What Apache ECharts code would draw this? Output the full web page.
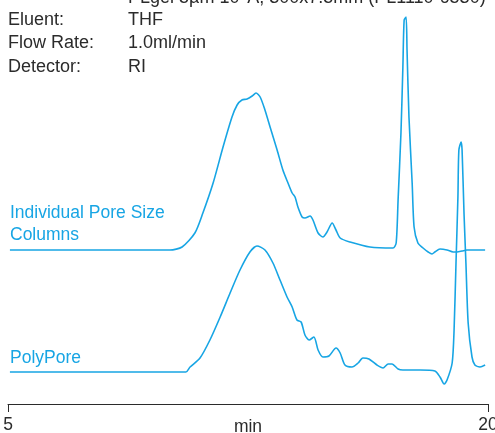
<!DOCTYPE html>
<html>
<head>
<meta charset="utf-8">
<script src="https://cdn.jsdelivr.net/npm/echarts@6/dist/echarts.min.js"></script>
<style>html,body{margin:0;padding:0;background:#fff;}#c{width:495px;height:433px;}</style>
</head>
<body>
<div id="c"></div>
<script>
// Retention time (min) and detector response (arbitrary units, curves offset vertically)
const individualTime = [5.06,10.06,10.44,10.84,11.09,11.41,11.72,12.00,12.16,12.31,12.47,12.63,12.75,12.88,13.03,13.19,13.41,13.59,13.75,13.88,13.97,14.06,14.19,14.28,14.44,14.53,14.69,14.84,14.97,15.13,15.25,15.38,15.69,16.31,17.03,17.13,17.19,17.28,17.34,17.38,17.44,17.47,17.53,17.63,17.69,17.81,17.97,18.13,18.25,18.34,18.50,18.72,18.91,19.03,19.19,19.34,19.91];
const individualSignal = [154,154,157,171,191,221,257,287,299,304,305,308,311,307,294,277,254,234,221,211,207,197,187,186,188,184,171,167,172,181,174,166,162,157,156,161,204,271,337,384,387,354,287,221,177,161,156,152,150,152,155,154,152,152,153,154,154];
const polyporeTime = [5.06,10.56,10.69,11.00,11.31,11.63,11.94,12.25,12.56,12.78,13.03,13.28,13.50,13.72,13.88,14.03,14.16,14.28,14.41,14.56,14.69,14.84,15.03,15.25,15.38,15.53,15.75,15.94,16.09,16.28,16.53,16.72,16.88,17.00,17.19,17.34,17.88,18.34,18.50,18.63,18.72,18.88,18.94,19.00,19.06,19.09,19.16,19.19,19.25,19.31,19.38,19.50,19.59,19.75,19.91];
const polyporeSignal = [32,32,37,46,64,87,111,134,152,158,154,141,124,107,97,84,82,69,64,67,54,47,48,56,51,39,37,41,46,45,39,36,40,40,35,34,34,33,27,20,24,41,74,141,207,254,262,254,191,141,81,47,39,37,39];
const xTicks = [5, 20];
const seriesNames = ['Individual Pore Size\nColumns', 'PolyPore'];
const infoLabels = ['Eluent:', 'Flow Rate:', 'Detector:'];
const infoValues = ['THF', '1.0ml/min', 'RI'];
const headerText = 'PLgel 5µm 10⁴Å, 300x7.5mm (PL1110-6530)';

const BLUE = '#17a5e4';
const DARK = '#2b2b2b';
const FONT = '"Liberation Sans", Arial, sans-serif';

const chart = echarts.init(document.getElementById('c'), null, {renderer: 'canvas'});
const zip = (a, b) => a.map((v, i) => [v, b[i]]);

const graphics = [
  {type: 'text', left: 128, top: -11, style: {text: headerText, fill: DARK, font: '18px ' + FONT}}
];
const rowsY = [11, 34, 58];
infoLabels.forEach((t, i) => {
  graphics.push({type: 'text', left: 8, top: rowsY[i], style: {text: t, fill: DARK, font: '18px ' + FONT}});
  graphics.push({type: 'text', left: 128, top: rowsY[i], style: {text: infoValues[i], fill: DARK, font: '18px ' + FONT}});
});
graphics.push({type: 'text', left: 10, top: 202, style: {text: seriesNames[0], fill: BLUE, font: '17.5px ' + FONT, lineHeight: 22}});
graphics.push({type: 'text', left: 10, top: 349, style: {text: seriesNames[1], fill: BLUE, font: '17.5px ' + FONT}});

chart.setOption({
  animation: false,
  backgroundColor: '#fff',
  grid: {left: 8, right: 7, top: 0, bottom: 28, containLabel: false, outerBoundsMode: 'none'},
  xAxis: {
    type: 'value', min: 5, max: 20,
    name: 'min', nameLocation: 'middle', nameGap: 13, nameMoveOverlap: false,
    nameTextStyle: {color: DARK, fontSize: 17.5, fontFamily: FONT},
    axisLine: {show: true, lineStyle: {color: DARK, width: 1}},
    axisTick: {show: true, length: 8, inside: false, customValues: xTicks, lineStyle: {color: DARK, width: 1}},
    axisLabel: {show: true, customValues: xTicks, color: DARK, fontSize: 17.5, fontFamily: FONT, margin: 11, showMaxLabel: true, showMinLabel: true},
    splitLine: {show: false}
  },
  yAxis: {
    type: 'value', min: -1, max: 404, show: false, splitLine: {show: false}
  },
  series: [
    {type: 'line', name: 'Individual Pore Size Columns', data: zip(individualTime, individualSignal), showSymbol: false, smooth: 0.25, lineStyle: {color: BLUE, width: 1.6}},
    {type: 'line', name: 'PolyPore', data: zip(polyporeTime, polyporeSignal), showSymbol: false, smooth: 0.25, lineStyle: {color: BLUE, width: 1.6}}
  ],
  graphic: graphics
});
</script>
</body>
</html>
